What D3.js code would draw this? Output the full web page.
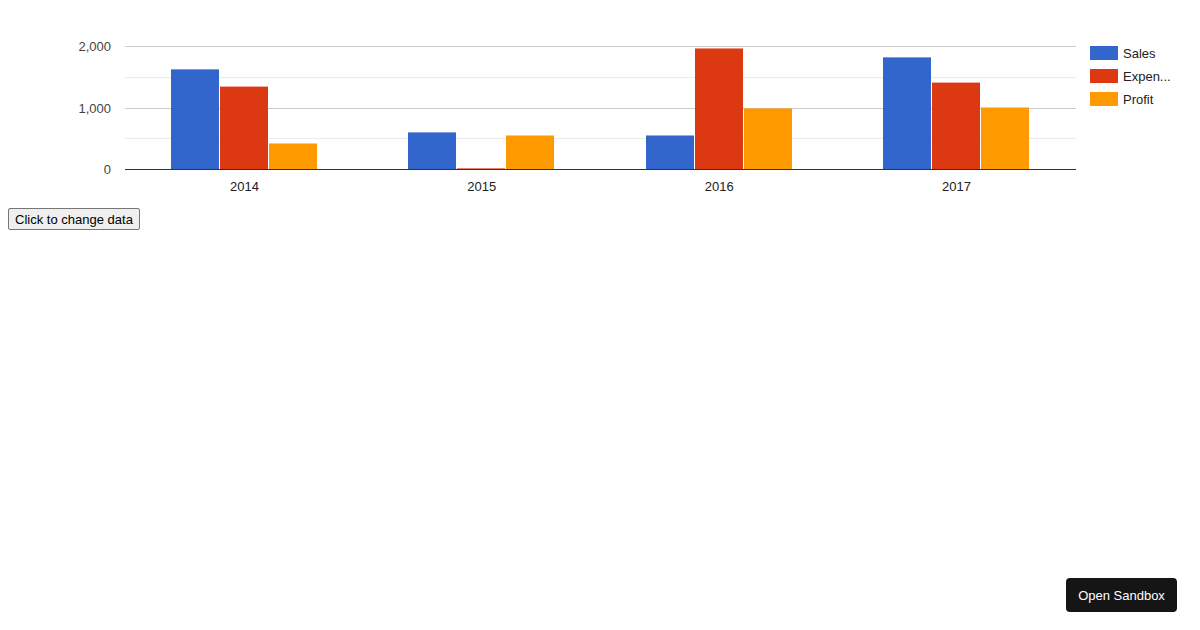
<!DOCTYPE html>
<html>
<head>
<meta charset="utf-8">
<script src="https://cdn.jsdelivr.net/npm/d3@7"></script>
<style>
  body { margin: 0; background: #fff; font-family: Arial, "Liberation Sans", sans-serif; }
  #chart { position: absolute; left: 0; top: 0; }
  #change {
    position: absolute; left: 8px; top: 208px; height: 22px; width: 132px;
    font: 13px Arial, "Liberation Sans", sans-serif; color: #000;
    background: #efefef; border: 1px solid #767676; border-radius: 2px; padding: 0;
  }
  #sandbox {
    position: absolute; left: 1066px; top: 578px; width: 111px; height: 34px;
    background: #151515; color: #fff; border-radius: 4px;
    font: 13px Arial, "Liberation Sans", sans-serif;
    display: flex; align-items: center; justify-content: center;
  }
</style>
</head>
<body>
<div id="chart"></div>
<button id="change">Click to change data</button>
<div id="sandbox">Open Sandbox</div>
<script>
// chart data
const years = ["2014", "2015", "2016", "2017"];
const series = ["Sales", "Expenses", "Profit"];
const sales = [1620, 595, 545, 1815];
const expenses = [1340, 10, 1960, 1405];
const profit = [415, 545, 985, 1000];
const yTicks = [0, 1000, 2000];
const yMinorTicks = [500, 1500];

const colors = ["#3366cc", "#dc3912", "#ff9900"];
const values = [sales, expenses, profit];

const width = 1200, height = 200;
const plot = { left: 125, right: 1076, top: 46, bottom: 169 };

const svg = d3.select("#chart").append("svg")
    .attr("width", width)
    .attr("height", height)
    .style("font-family", "Arial, 'Liberation Sans', sans-serif");

const x = d3.scaleBand()
    .domain(years)
    .range([125.8, 1075.2])
    .paddingInner(0.3806)
    .paddingOuter(0.1903);

const xInner = d3.scaleBand()
    .domain(series)
    .range([0, x.bandwidth()]);

const y = d3.scaleLinear()
    .domain([0, 2000])
    .range([plot.bottom, plot.top]);

const crisp = v => Math.round(v) + 0.5;

// minor + major gridlines
svg.append("g").selectAll("line")
    .data(yMinorTicks)
    .join("line")
    .attr("x1", plot.left).attr("x2", plot.right)
    .attr("y1", d => crisp(y(d))).attr("y2", d => crisp(y(d)))
    .attr("stroke", "#ebebeb");

svg.append("g").selectAll("line")
    .data(yTicks.filter(d => d !== 0))
    .join("line")
    .attr("x1", plot.left).attr("x2", plot.right)
    .attr("y1", d => crisp(y(d))).attr("y2", d => crisp(y(d)))
    .attr("stroke", "#cccccc");

// y axis labels
svg.append("g").selectAll("text")
    .data(yTicks)
    .join("text")
    .attr("x", 111)
    .attr("y", d => y(d) + 5)
    .attr("text-anchor", "end")
    .attr("font-size", 13)
    .attr("fill", "#444")
    .text(d => d3.format(",")(d));

// bars
const rows = years.map((yr, i) => ({ year: yr, vals: series.map((s, j) => ({ s, j, v: values[j][i] })) }));

svg.append("g").selectAll("g")
    .data(rows)
    .join("g")
    .selectAll("rect")
    .data(d => d.vals.map(v => ({ ...v, year: d.year })))
    .join("rect")
    .attr("x", d => Math.round(x(d.year) + xInner(d.s)))
    .attr("width", Math.round(xInner.bandwidth()) - 1)
    .attr("y", d => y(d.v))
    .attr("height", d => plot.bottom - y(d.v))
    .attr("fill", d => colors[d.j]);

// baseline
svg.append("line")
    .attr("x1", plot.left).attr("x2", plot.right)
    .attr("y1", crisp(y(0))).attr("y2", crisp(y(0)))
    .attr("stroke", "#333");

// x labels
svg.append("g").selectAll("text")
    .data(years)
    .join("text")
    .attr("x", d => x(d) + x.bandwidth() / 2)
    .attr("y", 191)
    .attr("text-anchor", "middle")
    .attr("font-size", 13)
    .attr("fill", "#222")
    .text(d => d);

// legend
const legend = svg.append("g").selectAll("g")
    .data(series)
    .join("g")
    .attr("transform", (d, i) => `translate(1090,${46 + i * 23})`);

legend.append("rect")
    .attr("width", 28).attr("height", 14)
    .attr("fill", (d, i) => colors[i]);

legend.append("text")
    .attr("x", 33).attr("y", 12)
    .attr("font-size", 13)
    .attr("fill", "#222")
    .text(d => d)
    .each(function(d) {
        // trim labels that run past the chart edge
        const el = d3.select(this);
        const maxW = 50;
        if (this.getComputedTextLength() <= maxW) return;
        let s = d;
        while (s.length > 1) {
            s = s.slice(0, -1);
            el.text(s + "...");
            if (this.getComputedTextLength() <= maxW) break;
        }
    });
</script>
</body>
</html>
